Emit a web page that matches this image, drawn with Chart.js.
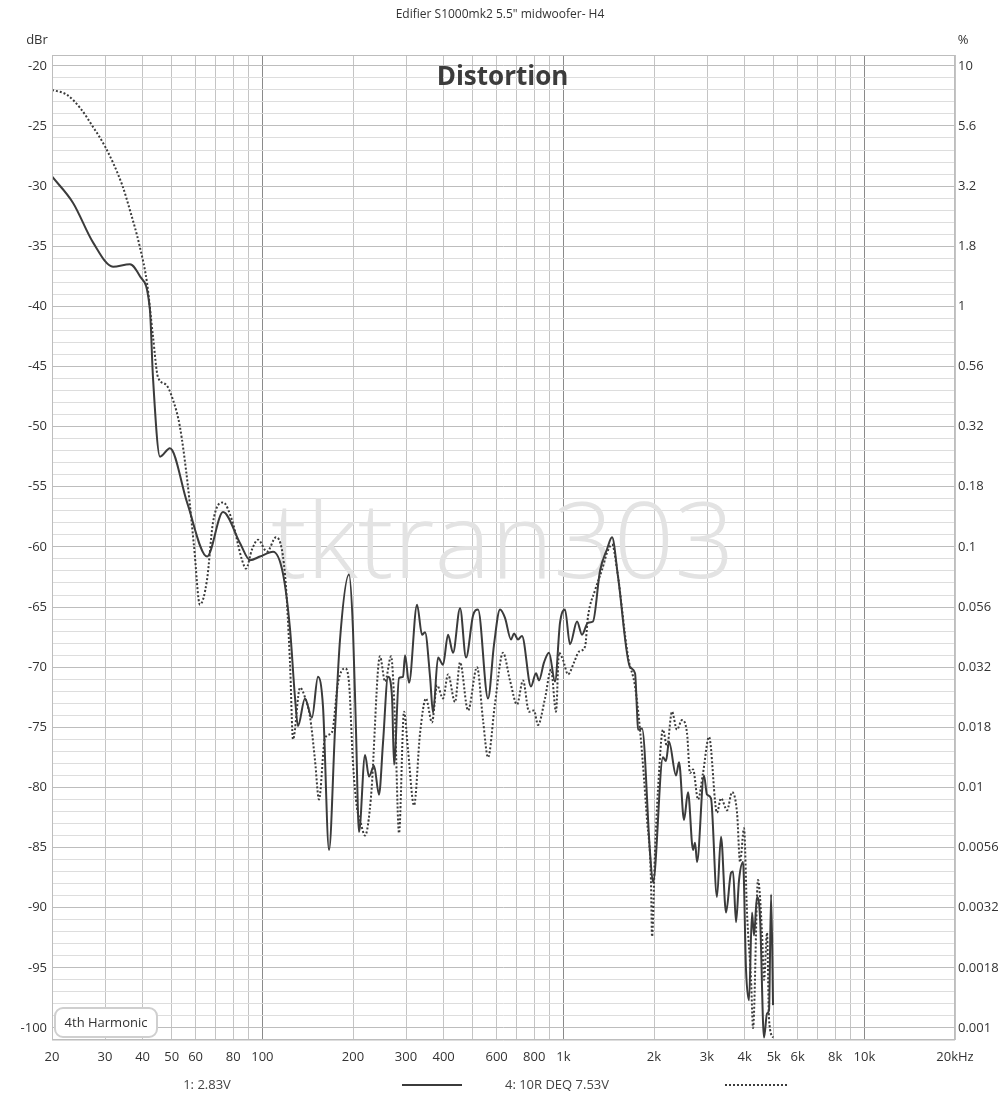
<!DOCTYPE html>
<html>
<head>
<meta charset="utf-8">
<script src="https://cdn.jsdelivr.net/npm/chart.js@4/dist/chart.umd.min.js"></script>
<style>
html,body{margin:0;padding:0;background:#fff;}
#wrap{width:1000px;height:1100px;position:relative;}
</style>
</head>
<body>
<div id="wrap"><canvas id="c" width="1000" height="1100"></canvas></div>
<script>
// ---- data ----
const solidFreq = [20,23.5,27.4,31.9,36.3,39.2,42.3,43.3,45.7,49.3,56.2,65.5,74.0,84.3,91.0,98.2,108.5,117.0,123.5,128.3,131.3,138.5,146.1,153.0,159.0,166.5,174.3,181.1,194.0,200,204.6,209.4,219.3,226.0,234.9,244.0,251.6,261.4,269.6,273.8,284.4,293.3,297.8,307.0,326.4,339.1,347.0,360.6,369.0,383.3,398.2,413.8,429.9,453.7,474.9,501,520.5,561.8,588.3,615.8,639.8,669.9,685.4,706.7,728.6,780.4,811,829.8,862.3,895.8,938,974.6,1012,1052,1110,1153,1207,1254,1323,1396,1451,1519,1665,1730,1756,1770,1825,1940,1985,2142,2192,2244,2367,2422,2516,2594,2696,2738,2780,2932,3000,3093,3238,3339,3470,3606,3661,3746,3833,3952,4044,4137,4233,4298,4398,4501,4640,4748,4822,4897,4972];
const solidDb = [-29.2,-31.4,-34.7,-36.7,-36.5,-37.5,-40.3,-45.9,-52.5,-51.8,-56.3,-60.8,-57.1,-59.7,-61.1,-60.8,-60.4,-62.2,-66.8,-72.5,-74.9,-72.6,-74.2,-70.8,-73.3,-85.2,-75.2,-67.7,-62.3,-66.9,-75.2,-83.7,-77.3,-79.1,-78.2,-80.6,-76.3,-70.8,-72.5,-78.1,-70.9,-70.8,-69.0,-71.3,-64.8,-67.3,-67.1,-70.8,-73.8,-69.2,-69.8,-67.3,-68.8,-65.1,-69.2,-65.7,-65.2,-72.6,-68.1,-65.2,-65.9,-67.7,-67.2,-67.7,-67.4,-71.6,-70.5,-71.1,-69.6,-68.8,-71.2,-66.3,-65.2,-68.1,-66.2,-67.3,-66.3,-66.2,-62.0,-60.2,-59.2,-62.5,-70.0,-70.5,-73.6,-75.2,-75.1,-85.4,-87.9,-77.5,-77.8,-76.2,-79.0,-77.9,-82.7,-80.4,-85.2,-84.6,-86.2,-79.0,-80.6,-80.9,-89.1,-84.1,-90.4,-87.1,-87.0,-91.2,-87.7,-86.2,-95.2,-97.7,-90.4,-92.3,-89.1,-90.8,-100.8,-98.8,-98.5,-88.9,-98.1];

const dotFreq = [20,22.4,24.8,27.4,30.0,34.2,36.3,39.2,41.4,43.3,45.0,47.8,50.5,53.2,56.6,59.3,62.0,65.5,68.5,74.0,79.3,85.6,88.2,92.4,96.7,103.6,111.0,118.9,123.5,126.4,133.4,138.5,143.9,149.5,154.2,161.4,170.3,178.3,188.1,194.0,200,206.2,211.0,219.3,229.5,245.8,255.6,267.6,275.8,284.4,295.5,304.7,319.0,334.0,349.6,366.0,380.4,398.2,413.8,436.4,453.7,482.2,516.5,540.7,561.8,592.8,630,664.6,701.4,734.3,768.7,798.6,823.4,868.8,909.8,945.2,967.1,997,1036,1085,1127,1180,1207,1274,1344,1396,1451,1508,1639,1730,1797,1896,1954,1970,2015,2062,2142,2209,2295,2384,2478,2575,2634,2696,2801,2910,3047,3238,3339,3497,3633,3775,3863,3982,4074,4202,4267,4432,4570,4640,4748,4822,4972];
const dotDb = [-22.0,-22.4,-23.5,-25.1,-26.7,-29.9,-32.0,-35.1,-38.1,-42.5,-45.9,-46.5,-47.8,-50.0,-55.0,-60.0,-64.8,-62.7,-58.0,-56.3,-57.8,-61.1,-61.8,-60.2,-59.4,-60.4,-59.2,-62.3,-69.6,-76.0,-71.7,-72.5,-74.1,-77.7,-81.0,-75.9,-75.4,-71.3,-70.1,-71.3,-78.0,-81.7,-82.7,-84.0,-80.8,-69.1,-71.2,-69.1,-74.4,-83.8,-73.7,-76.9,-81.5,-75.5,-72.6,-74.6,-71.5,-72.6,-70.6,-72.9,-69.6,-73.6,-70.0,-74.4,-77.5,-73.0,-68.8,-71.1,-73.1,-71.1,-73.7,-73.6,-74.8,-72.6,-70.2,-73.7,-68.8,-69.4,-70.6,-69.6,-68.7,-68.3,-65.8,-63.6,-61.9,-60.5,-59.8,-61.9,-69.1,-71.6,-75.2,-82.7,-87.7,-92.4,-85.4,-80.2,-75.2,-76.6,-73.7,-75.2,-74.4,-75.5,-78.8,-78.5,-81.0,-78.8,-75.8,-82.1,-80.9,-81.9,-80.4,-82.1,-86.2,-83.4,-90.4,-96.0,-100.0,-87.7,-92.1,-96.0,-92.1,-99.3,-100.8];

const seriesNames = ["1: 2.83V", "4: 10R DEQ 7.53V"];
const xGridValues = [20,30,40,50,60,70,80,90,100,200,300,400,500,600,700,800,900,1000,2000,3000,4000,5000,6000,7000,8000,9000,10000,20000];
const xLabelValues = [20,30,40,50,60,80,100,200,300,400,600,800,1000,2000,3000,4000,5000,6000,8000,10000,20000];
const xLabelTexts = ["20","30","40","50","60","80","100","200","300","400","600","800","1k","2k","3k","4k","5k","6k","8k","10k","20kHz"];
const dbTicks = [-20,-25,-30,-35,-40,-45,-50,-55,-60,-65,-70,-75,-80,-85,-90,-95,-100];
const pctLabels = ["10","5.6","3.2","1.8","1","0.56","0.32","0.18","0.1","0.056","0.032","0.018","0.01","0.0056","0.0032","0.0018","0.001"];

const chartTitle = 'Edifier S1000mk2 5.5" midwoofer- H4';
const innerTitle = "Distortion";
const watermark = "tktran303";
const boxLabel = "4th Harmonic";

// ---- build ----
const toPts = (fs, ds) => fs.map((f, i) => ({x: f, y: ds[i]}));
const FONT = "'Open Sans', 'Noto Sans', sans-serif";
const LINE = '#3b3b3b';

const decor = {
  id: 'decor',
  beforeDatasetsDraw(chart) {
    const {ctx} = chart;
    ctx.save();
    ctx.fillStyle = '#e3e3e3';
    ctx.font = "300 106px 'Open Sans', 'Noto Sans', sans-serif";
    ctx.textAlign = 'center';
    ctx.textBaseline = 'middle';
    ctx.fillText(watermark, 503, 548);
    ctx.restore();
  },
  afterDraw(chart) {
    const {ctx, chartArea: a} = chart;
    ctx.save();
    ctx.fillStyle = '#333';
    ctx.textAlign = 'center';
    ctx.textBaseline = 'middle';
    ctx.font = "12px " + FONT;
    ctx.fillText(chartTitle, 500, 15);
    ctx.font = "13px " + FONT;
    ctx.fillText("dBr", 37, 40);
    ctx.fillText("%", 963, 40);
    ctx.font = "bold 26px " + FONT;
    ctx.fillStyle = '#3c3c3c';
    ctx.fillText(innerTitle, (a.left + a.right) / 2 - 1, 78);
    // box label
    ctx.fillStyle = '#fff';
    ctx.strokeStyle = '#cfcfcf';
    ctx.lineWidth = 2;
    ctx.beginPath();
    ctx.roundRect(55, 1008, 102, 29, 8);
    ctx.fill();
    ctx.stroke();
    ctx.fillStyle = '#333';
    ctx.font = "13px " + FONT;
    ctx.fillText(boxLabel, 106, 1023);
    // legend
    ctx.fillStyle = '#444';
    ctx.fillText(seriesNames[0], 207, 1085);
    ctx.fillText(seriesNames[1], 557, 1085);
    ctx.strokeStyle = LINE;
    ctx.lineWidth = 2;
    ctx.beginPath(); ctx.moveTo(402, 1085); ctx.lineTo(462, 1085); ctx.stroke();
    ctx.setLineDash([2, 2]);
    ctx.beginPath(); ctx.moveTo(725, 1085); ctx.lineTo(787, 1085); ctx.stroke();
    ctx.setLineDash([]);
    // frame
    ctx.strokeStyle = '#bdbdbd';
    ctx.lineWidth = 1;
    ctx.strokeRect(a.left + 0.5, a.top + 0.5, a.right - a.left - 1, a.bottom - a.top - 1);
    ctx.restore();
  }
};

new Chart(document.getElementById('c'), {
  type: 'line',
  data: {
    datasets: [
      {label: seriesNames[0], data: toPts(solidFreq, solidDb), borderColor: LINE, borderWidth: 2,
       pointRadius: 0, cubicInterpolationMode: 'monotone', fill: false},
      {label: seriesNames[1], data: toPts(dotFreq, dotDb), borderColor: LINE, borderWidth: 2,
       borderDash: [2, 2], pointRadius: 0, cubicInterpolationMode: 'monotone', fill: false}
    ]
  },
  options: {
    responsive: false,
    animation: false,
    events: [],
    layout: {padding: {top: 55, left: 0, right: 0, bottom: 0}},
    plugins: {legend: {display: false}, title: {display: false}, tooltip: {enabled: false}},
    scales: {
      x: {
        type: 'logarithmic', min: 20, max: 20000,
        afterBuildTicks: s => { s.ticks = xGridValues.map(v => ({value: v})); },
        afterFit: s => { s.height = 60; },
        grid: {
          drawTicks: false,
          color: c => ([100, 1000, 10000].includes(c.tick && c.tick.value) ? '#8a8a8a' : '#c4c4c4'),
          lineWidth: 1
        },
        border: {display: false},
        ticks: {
          autoSkip: false, maxRotation: 0, padding: 9,
          color: '#333', font: {family: FONT, size: 13},
          callback: v => { const i = xLabelValues.indexOf(v); return i >= 0 ? xLabelTexts[i] : ''; }
        }
      },
      y: {
        type: 'linear', position: 'left', min: -101, max: -19.1,
        afterBuildTicks: s => { const t = []; for (let v = -101; v <= -20; v++) t.push({value: v}); s.ticks = t; },
        afterFit: s => { s.width = 52; },
        grid: {
          drawTicks: false,
          color: c => (c.tick && c.tick.value % 5 === 0 ? '#bdbdbd' : '#dddddd'),
          lineWidth: 1
        },
        border: {display: false},
        ticks: {
          autoSkip: false, padding: 5, color: '#333', font: {family: FONT, size: 13},
          callback: v => (dbTicks.includes(v) ? String(v) : '')
        }
      },
      y2: {
        type: 'linear', position: 'right', min: -101, max: -19.1,
        afterBuildTicks: s => { s.ticks = dbTicks.map(v => ({value: v})); },
        afterFit: s => { s.width = 45; },
        grid: {display: false, drawTicks: false},
        border: {display: false},
        ticks: {
          autoSkip: false, padding: 3, color: '#333', font: {family: FONT, size: 13},
          callback: v => { const i = dbTicks.indexOf(v); return i >= 0 ? pctLabels[i] : ''; }
        }
      }
    }
  },
  plugins: [decor]
});
</script>
</body>
</html>
